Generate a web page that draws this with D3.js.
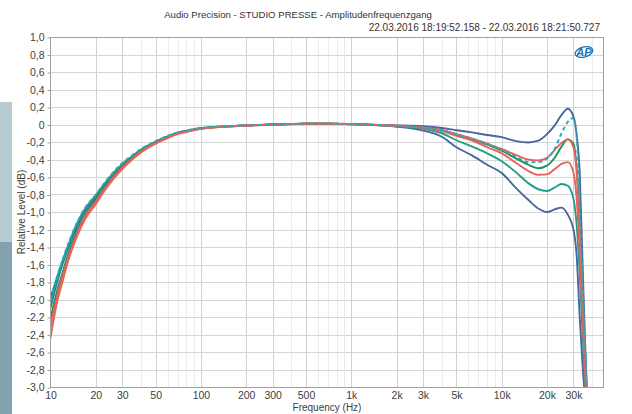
<!DOCTYPE html>
<html><head><meta charset="utf-8">
<script src="https://cdn.jsdelivr.net/npm/d3@7/dist/d3.min.js"></script>
<style>body{margin:0;background:#fff;} svg{display:block;font-family:"Liberation Sans",Arial,sans-serif;}</style>
</head><body><svg id="c" width="632" height="414"></svg>
<script>
const title = "Audio Precision - STUDIO PRESSE - Amplitudenfrequenzgang";
const subtitle = "22.03.2016 18:19:52.158 - 22.03.2016 18:21:50.727";
const xLabel = "Frequency (Hz)";
const yLabel = "Relative Level (dB)";
const xTicks = [10,20,30,50,100,200,300,500,1000,2000,3000,5000,10000,20000,30000];
const xTickLabels = ["10","20","30","50","100","200","300","500","1k","2k","3k","5k","10k","20k","30k"];
const yTicks = [1,0.8,0.6,0.4,0.2,0,-0.2,-0.4,-0.6,-0.8,-1,-1.2,-1.4,-1.6,-1.8,-2,-2.2,-2.4,-2.6,-2.8,-3];

const freqs = [10,11,12,13,15,17,20,23,26,30,35,40,50,60,70,85,100,130,170,200,300,500,700,1000,
  1500,2000,3000,4000,5000,6300,8000,10000,12500,15000,17500,20000,22500,25000,27500,30000,31500,33000,34500,36000,37500,40000];

const blueUpper = [-1.98,-1.76,-1.57,-1.41,-1.15,-0.98,-0.83,-0.69,-0.58,-0.47,-0.37,-0.295,-0.2,-0.14,-0.097,-0.065,-0.044,-0.027,-0.016,-0.01,0.0,0.01,0.01,0.005,
  -0.005,-0.01,-0.02,-0.04,-0.065,-0.09,-0.12,-0.145,-0.19,-0.205,-0.185,-0.11,-0.01,0.11,0.18,0.09,-0.12,-0.55,-1.6,-2.6,-3.4,-4.8];
const blueLower = [-2.10,-1.82,-1.60,-1.43,-1.17,-0.99,-0.84,-0.70,-0.585,-0.47,-0.375,-0.30,-0.2,-0.14,-0.097,-0.065,-0.044,-0.027,-0.016,-0.01,0.0,0.01,0.01,0.005,
  -0.01,-0.025,-0.07,-0.14,-0.26,-0.35,-0.46,-0.555,-0.73,-0.86,-0.96,-1.0,-0.97,-0.95,-1.03,-1.2,-1.5,-2.2,-2.75,-3.2,-3.7,-4.5];
const tealDashed = [-2.00,-1.75,-1.55,-1.38,-1.12,-0.95,-0.80,-0.66,-0.55,-0.44,-0.35,-0.28,-0.19,-0.13,-0.09,-0.06,-0.04,-0.025,-0.015,-0.01,0.0,0.01,0.01,0.005,
  -0.005,-0.015,-0.035,-0.065,-0.11,-0.16,-0.22,-0.29,-0.37,-0.43,-0.43,-0.39,-0.28,-0.1,0.03,0.075,-0.15,-0.9,-1.8,-2.6,-3.3,-4.5];
const redUpper = [-2.32,-1.98,-1.74,-1.54,-1.25,-1.05,-0.88,-0.73,-0.61,-0.49,-0.39,-0.31,-0.21,-0.15,-0.105,-0.07,-0.048,-0.03,-0.018,-0.012,-0.002,0.008,0.008,0.003,
  -0.005,-0.015,-0.035,-0.065,-0.11,-0.16,-0.22,-0.28,-0.35,-0.40,-0.41,-0.38,-0.29,-0.21,-0.17,-0.26,-0.55,-1.2,-2.0,-2.8,-3.4,-4.5];
const green = [-2.22,-1.92,-1.70,-1.50,-1.22,-1.03,-0.86,-0.71,-0.60,-0.48,-0.38,-0.30,-0.205,-0.145,-0.10,-0.068,-0.046,-0.028,-0.017,-0.011,-0.002,0.008,0.008,0.003,
  -0.005,-0.015,-0.035,-0.065,-0.115,-0.17,-0.23,-0.30,-0.39,-0.46,-0.50,-0.47,-0.38,-0.25,-0.17,-0.22,-0.5,-1.1,-1.9,-2.7,-3.35,-4.5];
const redLower = [-2.44,-2.05,-1.80,-1.58,-1.28,-1.08,-0.91,-0.75,-0.63,-0.51,-0.40,-0.32,-0.22,-0.155,-0.11,-0.075,-0.05,-0.03,-0.02,-0.012,-0.003,0.008,0.008,0.003,
  -0.005,-0.015,-0.04,-0.075,-0.13,-0.18,-0.26,-0.33,-0.44,-0.53,-0.575,-0.57,-0.51,-0.45,-0.43,-0.55,-0.85,-1.45,-2.2,-2.9,-3.5,-4.5];
const tealLower = [-2.06,-1.78,-1.57,-1.40,-1.13,-0.96,-0.81,-0.67,-0.56,-0.45,-0.36,-0.285,-0.195,-0.135,-0.093,-0.062,-0.042,-0.026,-0.016,-0.01,0.0,0.01,0.01,0.005,
  -0.005,-0.02,-0.05,-0.1,-0.18,-0.25,-0.33,-0.42,-0.55,-0.67,-0.74,-0.76,-0.72,-0.68,-0.70,-0.85,-1.15,-1.7,-2.4,-3.0,-3.6,-4.5];

const seriesNames = ["blueLower","blueUpper","tealLower","green","redLower","redUpper","tealDashed"];
const seriesValues = [blueLower,blueUpper,tealLower,green,redLower,redUpper,tealDashed];
const seriesColors = ["#4a659f","#4a659f","#1fa08a","#17955c","#e8625c","#e8625c","#2aa9bb"];
const seriesDash = [null,null,null,null,null,null,"4,3"];

const svg = d3.select("#c");
const L = 50.5, R = 603.5, T = 37, B = 387;
const x = d3.scaleLog().domain([10,47500]).range([L,R]);
const y = d3.scaleLinear().domain([-3,1]).range([B,T]);

// left decoration strip
svg.append("rect").attr("x",0).attr("y",102).attr("width",12).attr("height",140).attr("fill","#b6ccd2");
svg.append("rect").attr("x",0).attr("y",242).attr("width",12).attr("height",172).attr("fill","#82a2ad");

// grid
const minor = [];
for (let d=10; d<=10000; d*=10) for (let m=1; m<10; m++) { const f=d*m; if (f>10 && f<47500 && !xTicks.includes(f)) minor.push(f); }
const g = svg.append("g");
g.selectAll(".vm").data(minor).enter().append("line")
  .attr("x1",d=>Math.round(x(d))+0.5).attr("x2",d=>Math.round(x(d))+0.5).attr("y1",T).attr("y2",B)
  .attr("stroke","#ebebeb").attr("stroke-width",1);
g.selectAll(".vM").data(xTicks.slice(1)).enter().append("line")
  .attr("x1",d=>Math.round(x(d))+0.5).attr("x2",d=>Math.round(x(d))+0.5).attr("y1",T).attr("y2",B)
  .attr("stroke","#d2d2d2").attr("stroke-width",1);
g.selectAll(".h").data(yTicks).enter().append("line")
  .attr("x1",L).attr("x2",R).attr("y1",d=>Math.round(y(d))+0.5).attr("y2",d=>Math.round(y(d))+0.5)
  .attr("stroke","#d6d6d6").attr("stroke-width",1);

// clip
svg.append("clipPath").attr("id","clip").append("rect").attr("x",L).attr("y",T).attr("width",R-L).attr("height",B-T);

const line = d3.line().x(d=>x(d[0])).y(d=>y(d[1])).curve(d3.curveMonotoneX);
const lines = svg.append("g").attr("clip-path","url(#clip)");
seriesValues.forEach((vals,i)=>{
  lines.append("path").datum(freqs.map((f,j)=>[f,vals[j]]))
    .attr("d",line).attr("fill","none").attr("stroke",seriesColors[i])
    .attr("stroke-width",1.9).attr("stroke-dasharray",seriesDash[i]).attr("stroke-linejoin","round");
});

// border
svg.append("rect").attr("x",L).attr("y",T+0.5).attr("width",R-L).attr("height",B-T).attr("fill","none").attr("stroke","#a0a0a0");

// axes
const yAxis = d3.axisLeft(y).tickValues(yTicks).tickSize(3).tickPadding(3)
  .tickFormat(d=> d===0 ? "0" : d3.format(".1f")(d).replace(".",",").replace("−","-"));
const ya = svg.append("g").attr("transform",`translate(${L},0.5)`).call(yAxis);
ya.select(".domain").remove();
ya.selectAll("line").attr("stroke","#a0a0a0");
ya.selectAll("text").attr("fill","#404040").style("font-size","10.5px");

const xAxis = d3.axisBottom(x).tickValues(xTicks).tickSize(0).tickPadding(5)
  .tickFormat((d,i)=>xTickLabels[i]);
const xa = svg.append("g").attr("transform",`translate(0,${B})`).call(xAxis);
xa.select(".domain").remove();
xa.selectAll("text").attr("fill","#404040").style("font-size","10.5px");

// labels
svg.append("text").attr("x",(L+R)/2).attr("y",411).attr("text-anchor","middle").attr("fill","#404040").style("font-size","10px").text(xLabel);
svg.append("text").attr("transform",`translate(25,${(T+B)/2}) rotate(-90)`).attr("text-anchor","middle").attr("fill","#404040").style("font-size","10px").text(yLabel);
svg.append("text").attr("x",298).attr("y",18).attr("text-anchor","middle").attr("fill","#333").style("font-size","9.6px").text(title);
svg.append("text").attr("x",600).attr("y",31).attr("text-anchor","end").attr("fill","#333").style("font-size","10px").text(subtitle);

// AP logo
const logo = svg.append("g").attr("transform","translate(584,52)");
logo.append("ellipse").attr("cx",0).attr("cy",0).attr("rx",9).attr("ry",5).attr("fill","none").attr("stroke","#1d72b8").attr("stroke-width",1.3).attr("transform","rotate(-15)");
logo.append("text").attr("x",0).attr("y",4).attr("text-anchor","middle").attr("fill","#1d72b8").style("font-size","11px").style("font-weight","bold").style("font-style","italic").text("AP");
</script></body></html>
